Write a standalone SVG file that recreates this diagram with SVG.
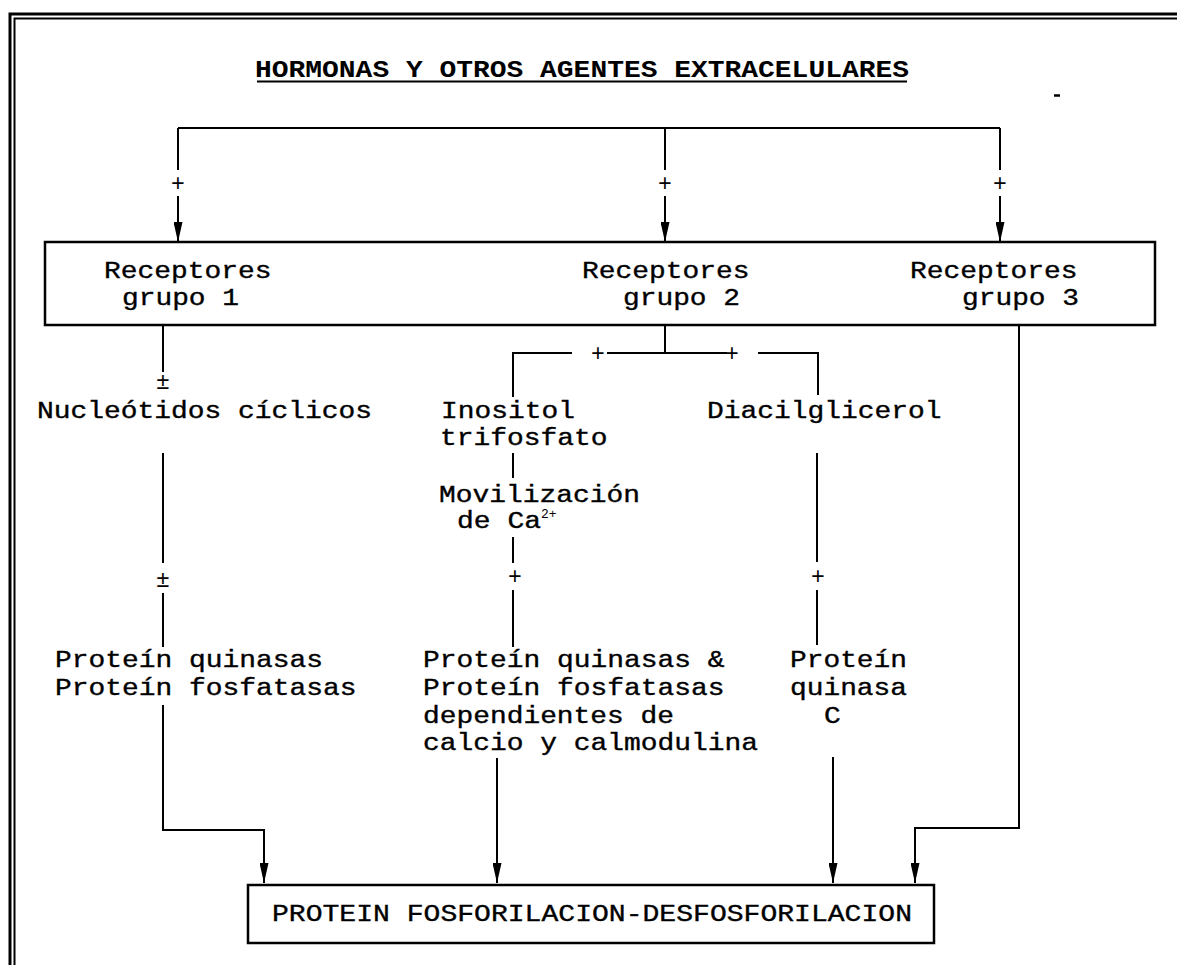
<svg xmlns="http://www.w3.org/2000/svg" width="1177" height="965" viewBox="0 0 1177 965">
  <style>
    .frame { fill: none; stroke: #000; }
    .box { fill: #fff; stroke: #000; stroke-width: 2.5; }
    .wire { fill: none; stroke: #000; stroke-width: 2; }
    .t { font-family: "Liberation Mono", "Courier New", monospace; font-size: 23px; fill: #000; stroke: #000; stroke-width: 0.35; }
    .title { font-family: "Liberation Mono", "Courier New", monospace; font-size: 23px; font-weight: bold; fill: #000; }
    .sign { font-family: "Liberation Mono", "Courier New", monospace; font-size: 23px; fill: #000; text-anchor: middle; }
    .sup { font-family: "Liberation Mono", "Courier New", monospace; font-size: 13px; fill: #000; }
  </style>
  <defs>
    <marker id="ah" markerUnits="userSpaceOnUse" markerWidth="20" markerHeight="9" refX="20" refY="4.5" orient="auto">
      <path d="M0,0 L20,4.5 L0,9 Z" fill="#000"/>
    </marker>
  </defs>

  <rect width="1177" height="965" fill="#fff"/>

  <!-- double page frame: top and left edges -->
  <g id="frame">
    <path class="frame" d="M10,965 V14 H1177" stroke-width="3"/>
    <path class="frame" d="M14.5,965 V18.5 H1177" stroke-width="2"/>
    <path d="M1054,95.5 H1060" stroke="#000" stroke-width="2.5"/>
  </g>

  <!-- heading -->
  <g id="title">
    <text class="title" x="255" y="77" textLength="654" lengthAdjust="spacingAndGlyphs">HORMONAS Y OTROS AGENTES EXTRACELULARES</text>
    <path d="M257,81.5 H907" stroke="#000" stroke-width="2"/>
  </g>

  <!-- connectors -->
  <g id="connectors" class="wire">
    <path d="M178,128 H1000"/>
    <path d="M178,128 V170"/>
    <path d="M178,196 V242" marker-end="url(#ah)"/>
    <path d="M665,128 V170"/>
    <path d="M665,196 V242" marker-end="url(#ah)"/>
    <path d="M1000,128 V170"/>
    <path d="M1000,196 V242" marker-end="url(#ah)"/>

    <!-- group 1 branch -->
    <path d="M163,325 V372"/>
    <path d="M163,453 V563"/>
    <path d="M163,593 V647"/>
    <path d="M163,705 V830 H264 V883" marker-end="url(#ah)"/>

    <!-- group 2 split -->
    <path d="M665,325 V353"/>
    <path d="M607,353 H727"/>
    <path d="M513,397 V353 H572"/>
    <path d="M758,353 H818 V395"/>
    <path d="M513,453 V478"/>
    <path d="M513,537 V563"/>
    <path d="M513,590 V647"/>
    <path d="M817,453 V562"/>
    <path d="M817,590 V645"/>
    <path d="M497,758 V883" marker-end="url(#ah)"/>
    <path d="M833,757 V883" marker-end="url(#ah)"/>

    <!-- group 3 branch -->
    <path d="M1019,325 V828 H915 V883" marker-end="url(#ah)"/>
  </g>

  <!-- signs on the connectors -->
  <g id="signs">
    <text class="sign" x="178" y="190.5">+</text>
    <text class="sign" x="665" y="190.5">+</text>
    <text class="sign" x="1000" y="190.5">+</text>
    <text class="sign" x="598" y="360.5">+</text>
    <text class="sign" x="732" y="360.5">+</text>
    <text class="sign" x="163" y="389">±</text>
    <text class="sign" x="163" y="587">±</text>
    <text class="sign" x="515" y="583.5">+</text>
    <text class="sign" x="818" y="583.5">+</text>
  </g>

  <g id="receptores">
    <rect class="box" x="45" y="242" width="1110" height="83"/>
    <text class="t" x="104" y="278" textLength="167.5" lengthAdjust="spacingAndGlyphs">Receptores</text>
    <text class="t" x="122" y="305" textLength="117" lengthAdjust="spacingAndGlyphs">grupo 1</text>
    <text class="t" x="582" y="278" textLength="167.5" lengthAdjust="spacingAndGlyphs">Receptores</text>
    <text class="t" x="623" y="305" textLength="117" lengthAdjust="spacingAndGlyphs">grupo 2</text>
    <text class="t" x="910" y="278" textLength="167.5" lengthAdjust="spacingAndGlyphs">Receptores</text>
    <text class="t" x="962" y="305" textLength="117" lengthAdjust="spacingAndGlyphs">grupo 3</text>
  </g>

  <g id="nucleotidos">
    <text class="t" x="37" y="418" textLength="335" lengthAdjust="spacingAndGlyphs">Nucleótidos cíclicos</text>
  </g>

  <g id="inositol">
    <text class="t" x="441" y="418" textLength="134" lengthAdjust="spacingAndGlyphs">Inositol</text>
    <text class="t" x="440" y="445" textLength="167.5" lengthAdjust="spacingAndGlyphs">trifosfato</text>
  </g>

  <g id="diacilglicerol">
    <text class="t" x="707" y="418" textLength="234.5" lengthAdjust="spacingAndGlyphs">Diacilglicerol</text>
  </g>

  <g id="calcio">
    <text class="t" x="439" y="502" textLength="201" lengthAdjust="spacingAndGlyphs">Movilización</text>
    <text class="t" x="457" y="528" textLength="84" lengthAdjust="spacingAndGlyphs">de Ca</text>
    <text class="sup" x="541" y="518">2+</text>
  </g>

  <g id="quinasas-1">
    <text class="t" x="55" y="667" textLength="268" lengthAdjust="spacingAndGlyphs">Proteín quinasas</text>
    <text class="t" x="55" y="695" textLength="301.5" lengthAdjust="spacingAndGlyphs">Proteín fosfatasas</text>
  </g>

  <g id="quinasas-2">
    <text class="t" x="423" y="667" textLength="301.5" lengthAdjust="spacingAndGlyphs">Proteín quinasas &amp;</text>
    <text class="t" x="423" y="695" textLength="301.5" lengthAdjust="spacingAndGlyphs">Proteín fosfatasas</text>
    <text class="t" x="423" y="723" textLength="251" lengthAdjust="spacingAndGlyphs">dependientes de</text>
    <text class="t" x="423" y="750" textLength="335" lengthAdjust="spacingAndGlyphs">calcio y calmodulina</text>
  </g>

  <g id="quinasa-c">
    <text class="t" x="790" y="667" textLength="117" lengthAdjust="spacingAndGlyphs">Proteín</text>
    <text class="t" x="790" y="695" textLength="117" lengthAdjust="spacingAndGlyphs">quinasa</text>
    <text class="t" x="824" y="723" textLength="16.75" lengthAdjust="spacingAndGlyphs">C</text>
  </g>

  <g id="fosforilacion">
    <rect class="box" x="248" y="885" width="686" height="58"/>
    <text class="t" x="272" y="921" textLength="640" lengthAdjust="spacingAndGlyphs">PROTEIN FOSFORILACION-DESFOSFORILACION</text>
  </g>
</svg>
